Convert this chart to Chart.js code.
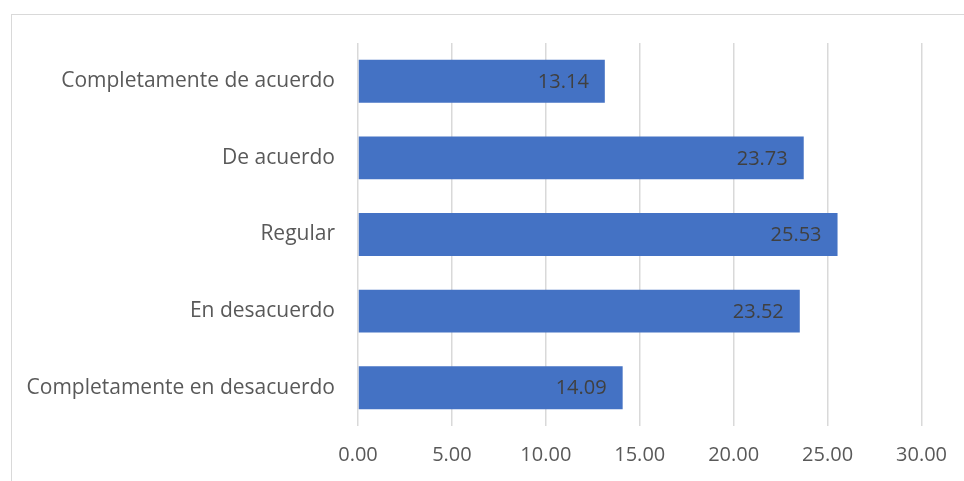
<!DOCTYPE html>
<html>
<head>
<meta charset="utf-8">
<script src="https://cdn.jsdelivr.net/npm/chart.js@4"></script>
<style>
  body { margin: 0; background: #fff; }
  #marco { position: absolute; left: 11px; top: 14px; width: 1000px; height: 500px; border-top: 1px solid #d9d9d9; border-left: 1px solid #d9d9d9; }
  #wrap { position: absolute; left: 0; top: 0; width: 964px; height: 481px; }
</style>
</head>
<body>
<div id="marco"></div>
<div id="wrap"><canvas id="grafica"></canvas></div>
<script>
const categorias = ["Completamente de acuerdo", "De acuerdo", "Regular", "En desacuerdo", "Completamente en desacuerdo"];
const porcentajes = [13.14, 23.73, 25.53, 23.52, 14.09];
const ticksX = [0, 5, 10, 15, 20, 25, 30];

const fuente = "'Open Sans', sans-serif";

// etiquetas de valor dentro del extremo de cada barra
const etiquetasBarras = {
    id: "etiquetasBarras",
    afterDatasetsDraw(chart) {
        const ctx = chart.ctx;
        const meta = chart.getDatasetMeta(0);
        ctx.save();
        ctx.font = "20px " + fuente;
        ctx.fillStyle = "#404040";
        ctx.textAlign = "right";
        ctx.textBaseline = "middle";
        meta.data.forEach((barra, i) => {
            ctx.fillText(porcentajes[i].toFixed(2), barra.x - 16, barra.y + 1);
        });
        ctx.restore();
    }
};

let contexto = document.getElementById("grafica").getContext("2d");
let grafico = new Chart(contexto, {
    type: "bar",
    data: {
        labels: categorias,
        datasets: [{
            data: porcentajes,
            backgroundColor: "#4472c4",
            borderWidth: 0,
            categoryPercentage: 1,
            barPercentage: 0.56,
        }],
    },
    options: {
        indexAxis: "y",
        responsive: true,
        maintainAspectRatio: false,
        animation: false,
        layout: { padding: { top: 43, right: 42, left: 0, bottom: 0 } },
        plugins: { legend: { display: false }, tooltip: { enabled: false } },
        scales: {
            x: {
                min: 0,
                max: 30,
                afterBuildTicks: (eje) => { eje.ticks = ticksX.map(v => ({ value: v })); },
                afterFit: (eje) => { eje.height = 55; },
                grid: { color: "#d9d9d9", lineWidth: 1.5, drawTicks: false },
                border: { display: false },
                ticks: {
                    padding: 17,
                    color: "#595959",
                    font: { family: fuente, size: 20 },
                    callback: (v) => Number(v).toFixed(2),
                },
            },
            y: {
                afterFit: (eje) => { eje.width = 358; },
                grid: { display: false, drawTicks: false },
                border: { display: false },
                ticks: {
                    padding: 23,
                    color: "#595959",
                    font: { family: fuente, size: 21 },
                },
            },
        },
    },
    plugins: [etiquetasBarras],
});
</script>
</body>
</html>
